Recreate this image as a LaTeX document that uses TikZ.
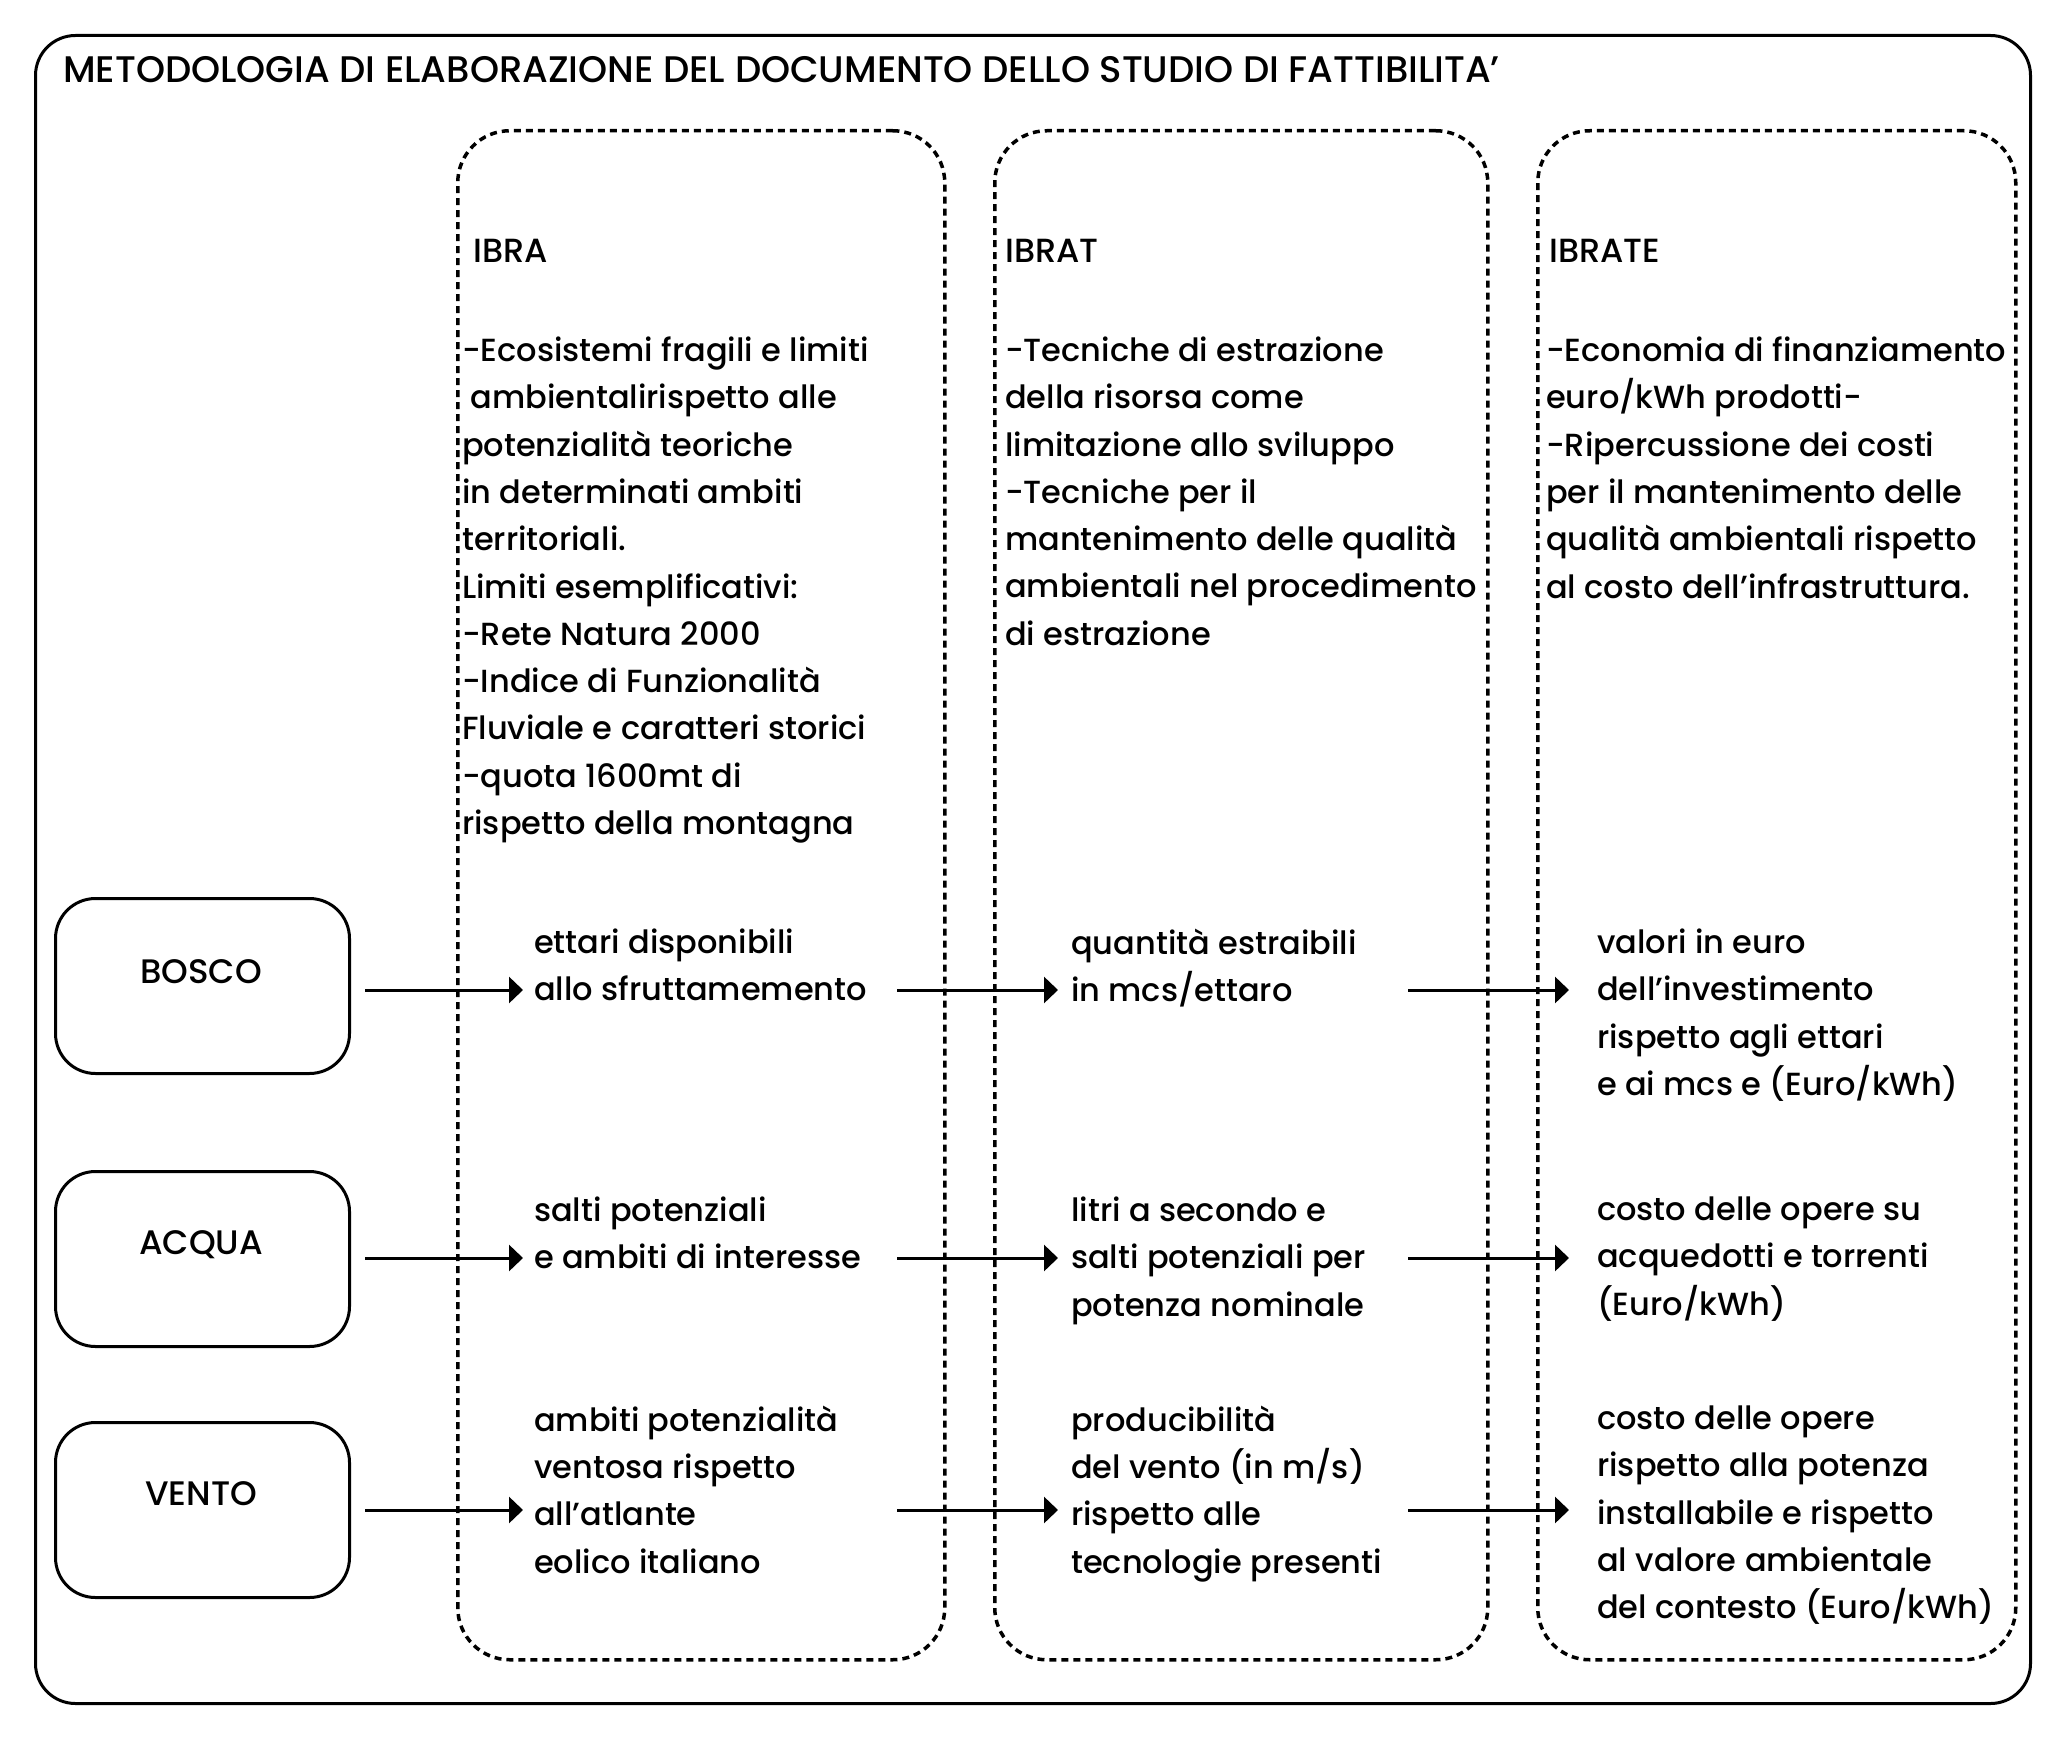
\documentclass[tikz,border=0pt]{standalone}
\usepackage{fontspec}
\setmainfont{Poppins Medium}
\usetikzlibrary{arrows.meta}
\begin{document}
\begin{tikzpicture}[x=1pt,y=-1pt,
 outer/.style={draw, line width=3pt, rounded corners=40pt, anchor=north west, inner sep=0pt},
 src/.style={draw, line width=3pt, rounded corners=40pt, minimum width=294pt, minimum height=175pt, anchor=north west, inner sep=0pt},
 srclabel/.style={inner sep=0pt, font=\fontsize{34}{42}\selectfont},
 col/.style={draw, line width=3.5pt, dash pattern=on 7pt off 5pt, rounded corners=52pt, anchor=north west, inner sep=0pt},
 txt/.style={inner sep=0pt, align=left, anchor=north west, font=\fontsize{32}{47.3}\selectfont},
 head/.style={inner sep=0pt, anchor=north west, font=\fontsize{33.5}{40}\selectfont},
 arr/.style={line width=3pt, -{Triangle[length=14pt,width=26pt]}},
]
\useasboundingbox (0,0) rectangle (2059,1739);
\node[outer, minimum width=1995pt, minimum height=1668pt] (frame) at (34,34) {};
\node[inner sep=0pt, anchor=north west, font=\fontsize{37}{44}\selectfont] (title) at (63,56) {METODOLOGIA DI ELABORAZIONE DEL DOCUMENTO DELLO STUDIO DI FATTIBILITA’};

\node[col, minimum width=487pt, minimum height=1529pt] (c1) at (456,129) {};
\node[col, minimum width=493pt, minimum height=1529pt] (c2) at (993,129) {};
\node[col, minimum width=478pt, minimum height=1529pt] (c3) at (1536,129) {};

\node[head] (h1) at (473,239) {IBRA};
\node[head] (h2) at (1005,239) {IBRAT};
\node[head] (h3) at (1549,239) {IBRATE};

\node[txt] (b1) at (462,336.6) {-Ecosistemi fragili e limiti\\
\ ambientalirispetto alle\\
potenzialità teoriche\\
in determinati ambiti\\
territoriali.\\
Limiti esemplificativi:\\
-Rete Natura 2000\\
-Indice di Funzionalità\\
Fluviale e caratteri storici\\
-quota 1600mt di\\
rispetto della montagna};
\node[txt] (b2) at (1005,336.6) {-Tecniche di estrazione\\
della risorsa come\\
limitazione allo sviluppo\\
-Tecniche per il\\
mantenimento delle qualità\\
ambientali nel procedimento\\
di estrazione};
\node[txt] (b3) at (1546,336.6) {-Economia di finanziamento\\
euro/kWh prodotti-\\
-Ripercussione dei costi\\
per il mantenimento delle\\
qualità ambientali rispetto\\
al costo dell’infrastruttura.};

\node[src] (bosco) at (54,897) {};
\node[src] (acqua) at (54,1170) {};
\node[src] (vento) at (54,1421) {};
\node[srclabel] (boscol) at (201,972) {BOSCO};
\node[srclabel] (acqual) at (201,1245) {ACQUA};
\node[srclabel] (ventol) at (201,1494) {VENTO};

\node[txt] (r11) at (534,928.6) {ettari disponibili\\allo sfruttamemento};
\node[txt] (r12) at (1071,928.6) {quantità estraibili\\in mcs/ettaro};
\node[txt] (r13) at (1597,928.6) {valori in euro\\dell’investimento\\rispetto agli ettari\\e ai mcs e (Euro/kWh)};

\node[txt] (r21) at (534,1196.6) {salti potenziali\\e ambiti di interesse};
\node[txt] (r22) at (1071,1196.6) {litri a secondo e\\salti potenziali per\\potenza nominale};
\node[txt] (r23) at (1597,1196.6) {costo delle opere su\\acquedotti e torrenti\\(Euro/kWh)};

\node[txt] (r31) at (534,1405.6) {ambiti potenzialità\\ventosa rispetto\\all’atlante\\eolico italiano};
\node[txt] (r32) at (1071,1405.6) {producibilità\\del vento (in m/s)\\rispetto alle\\tecnologie presenti};
\node[txt] (r33) at (1597,1405.6) {costo delle opere\\rispetto alla potenza\\installabile e rispetto\\al valore ambientale\\del contesto (Euro/kWh)};

\coordinate (a12) at (897,990);
\coordinate (a13) at (1408,990);
\coordinate (a22) at (897,1258);
\coordinate (a23) at (1408,1258);
\coordinate (a32) at (897,1510);
\coordinate (a33) at (1408,1510);

\draw[arr] ([xshift=14pt]bosco.east |- a12) -- ([xshift=-11pt]r11.west |- a12);
\draw[arr] (a12) -- ([xshift=-13pt]r12.west |- a12);
\draw[arr] (a13) -- ([xshift=-28pt]r13.west |- a13);
\draw[arr] ([xshift=14pt]acqua.east |- a22) -- ([xshift=-11pt]r21.west |- a22);
\draw[arr] (a22) -- ([xshift=-13pt]r22.west |- a22);
\draw[arr] (a23) -- ([xshift=-28pt]r23.west |- a23);
\draw[arr] ([xshift=14pt]vento.east |- a32) -- ([xshift=-11pt]r31.west |- a32);
\draw[arr] (a32) -- ([xshift=-13pt]r32.west |- a32);
\draw[arr] (a33) -- ([xshift=-28pt]r33.west |- a33);
\end{tikzpicture}
\end{document}
